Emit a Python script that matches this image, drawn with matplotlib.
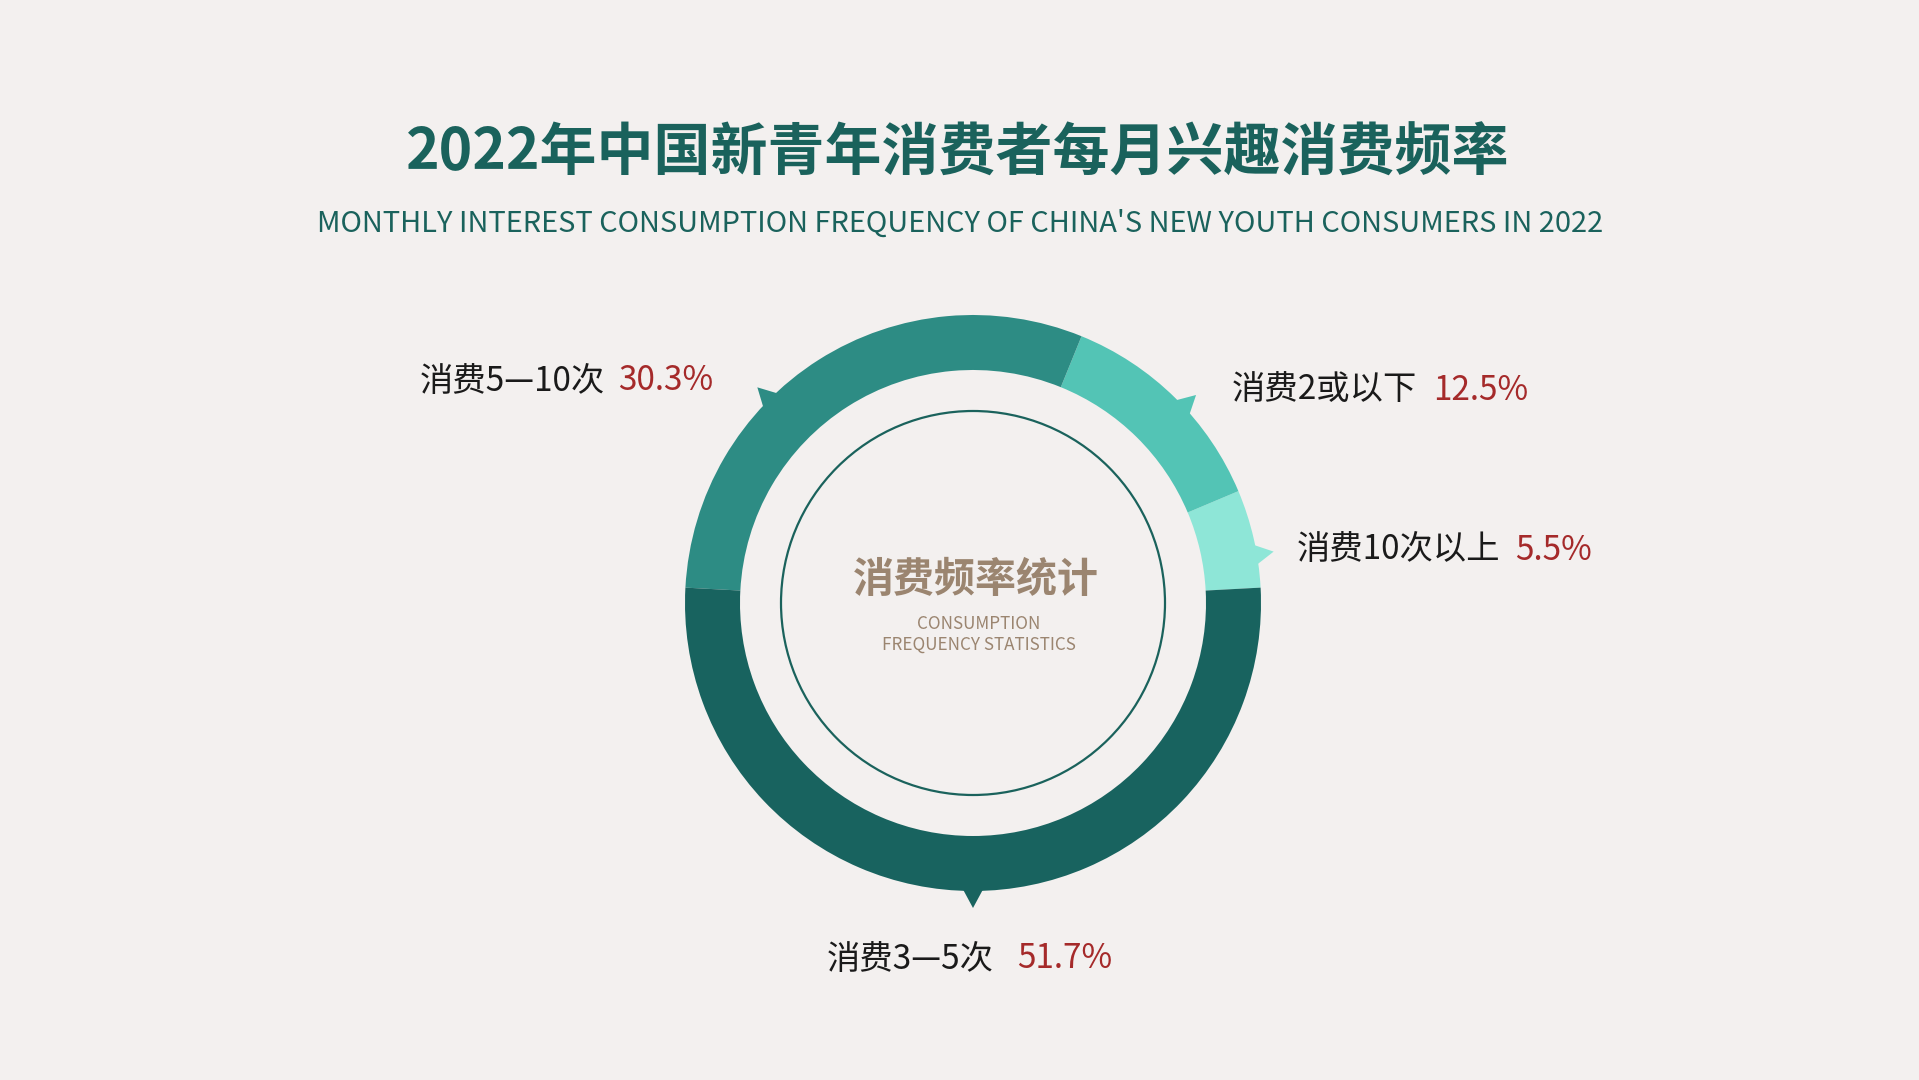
import matplotlib
matplotlib.use("Agg")
import matplotlib.pyplot as plt
from matplotlib.patches import Circle, Polygon
import numpy as np

plt.rcParams['font.family'] = ['Noto Sans CJK SC', 'DejaVu Sans']

# ---- data ----
categories = ["消费10次以上", "消费2或以下", "消费5—10次", "消费3—5次"]
values = [5.5, 12.5, 30.3, 51.7]
pct_labels = ["5.5%", "12.5%", "30.3%", "51.7%"]
title = "2022年中国新青年消费者每月兴趣消费频率"
subtitle = "MONTHLY INTEREST CONSUMPTION FREQUENCY OF CHINA'S NEW YOUTH CONSUMERS IN 2022"
center_title = "消费频率统计"
center_sub = "CONSUMPTION\nFREQUENCY STATISTICS"

# ---- style / layout ----
W, H = 1919, 1080
BG = "#f3f0ef"
TEAL = "#1a625c"
colors = ["#8ee6d7", "#53c4b5", "#2d8c84", "#18635f"]
RED = "#a52a2a"
BROWN = "#9b8570"
CX, CY = 973, H - 603
R_OUT, RING_W = 288, 55
R_LINE = 192
pointer_angles = [9.7, 43.0, 135.0, 270.0]
label_pos = [(1297, 550), (1232, 390), (420, 381), (827, 959)]
pct_pos = [(1515, 550), (1433, 390), (618, 381), (1017, 959)]

fig = plt.figure(figsize=(W / 100, H / 100), dpi=100, facecolor=BG)
ax = fig.add_axes([0, 0, 1, 1])
ax.set_facecolor(BG)

start = 270 + 3.6 * values[-1] / 2 - 360
ax.pie(values, colors=colors, startangle=start, counterclock=True,
       radius=R_OUT, center=(CX, CY), frame=False,
       wedgeprops=dict(width=RING_W, linewidth=0))
ax.set_xlim(0, W)
ax.set_ylim(0, H)
ax.set_aspect('equal')
ax.axis('off')

# pointer triangles
for a, c in zip(pointer_angles, colors):
    t = np.deg2rad(a)
    half = 11.0 / R_OUT
    r0 = R_OUT - 3
    p1 = (CX + r0 * np.cos(t - half), CY + r0 * np.sin(t - half))
    p2 = (CX + r0 * np.cos(t + half), CY + r0 * np.sin(t + half))
    tip = (CX + (R_OUT + 17) * np.cos(t), CY + (R_OUT + 17) * np.sin(t))
    ax.add_patch(Polygon([p1, tip, p2], closed=True, fc=c, ec='none'))

ax.add_patch(Circle((CX, CY), R_LINE, fill=False, ec=TEAL, lw=1.6))

# center text
ax.text(976, H - 580, center_title, ha='center', va='center',
        fontsize=29.5, fontweight='bold', color=BROWN)
ax.text(979, H - 634, center_sub, ha='center', va='center',
        fontsize=12.3, color=BROWN, linespacing=1.2, multialignment='center')

# titles
ax.text(958, H - 154, title, ha='center', va='center',
        fontsize=41, fontweight='bold', color=TEAL)
ax.text(960, H - 224, subtitle, ha='center', va='center',
        fontsize=20.9, fontweight='medium', color=TEAL)

# labels
for cat, (lx, ly), pct, (px, py) in zip(categories, label_pos, pct_labels, pct_pos):
    ax.text(lx, H - ly, cat, ha='left', va='center', fontsize=24, color="#1a1a1a")
    ax.text(px, H - py, pct, ha='left', va='center', fontsize=24, color=RED)

fig.savefig("out.png", dpi=100, facecolor=BG)
